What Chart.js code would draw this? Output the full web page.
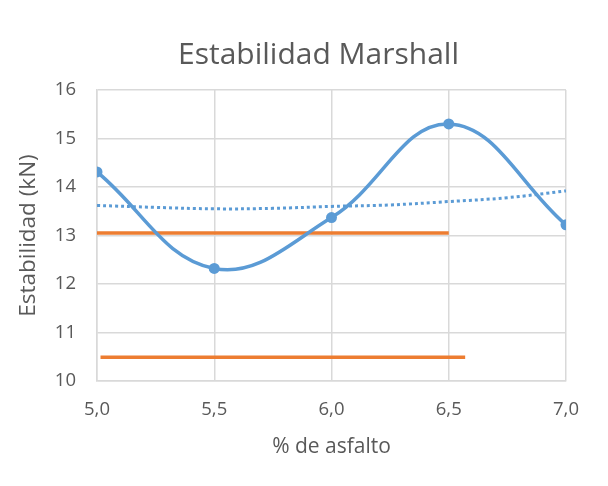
<!DOCTYPE html>
<html>
<head>
<meta charset="utf-8">
<script src="https://cdn.jsdelivr.net/npm/chart.js@4"></script>
<style>
  html, body { margin: 0; padding: 0; background: #fff; }
  #wrap { width: 608px; height: 486px; }
</style>
</head>
<body>
<div id="wrap"><canvas id="chart" width="608" height="486"></canvas></div>
<script>
// % de asfalto vs estabilidad
const asfalto = [5.0, 5.5, 6.0, 6.5, 7.0];
const estabilidad = [14.31, 12.32, 13.37, 15.30, 13.22];

// linea de tendencia (punteada)
const tendX = [5.0, 5.25, 5.5, 5.75, 6.0, 6.25, 6.5, 6.75, 7.0];
const tendY = [13.62, 13.58, 13.55, 13.56, 13.60, 13.63, 13.70, 13.78, 13.92];

// limites (naranja)
const lim1X = [5.0, 6.5];
const lim1Y = [13.05, 13.05];
const lim2X = [5.015, 6.57];
const lim2Y = [10.49, 10.49];

const xMin = 5.0, xMax = 7.0;
const yMin = 10, yMax = 16;

const blue = '#5B9BD5';
const orange = '#ED7D31';
const grey = '#595959';

function pts(xs, ys) {
  return xs.map((x, i) => ({x: x, y: ys[i]}));
}

const fontFam = '"Open Sans", sans-serif';

// excel centra el titulo un poco mas a la derecha
const shiftTitle = {
  id: 'shiftTitle',
  afterLayout(chart) {
    const t = chart.titleBlock;
    if (t) { t.left += 30; t.right += 30; }
  }
};

new Chart(document.getElementById('chart'), {
  type: 'line',
  plugins: [shiftTitle],
  data: {
    datasets: [
      {
        label: 'Estabilidad',
        data: pts(asfalto, estabilidad),
        borderColor: blue,
        backgroundColor: blue,
        borderWidth: 3.5,
        pointRadius: 5.5,
        pointBorderWidth: 0,
        tension: 0.4
      },
      {
        label: 'Tendencia',
        data: pts(tendX, tendY),
        borderColor: blue,
        borderWidth: 3,
        borderDash: [3, 3],
        pointRadius: 0,
        tension: 0.4
      },
      {
        label: 'Limite 1',
        data: pts(lim1X, lim1Y),
        borderColor: orange,
        borderWidth: 3.5,
        pointRadius: 0
      },
      {
        label: 'Limite 2',
        data: pts(lim2X, lim2Y),
        borderColor: orange,
        borderWidth: 3.5,
        pointRadius: 0
      }
    ]
  },
  options: {
    responsive: false,
    animation: false,
    layout: {
      padding: {left: 11, right: 42, top: 37, bottom: 22}
    },
    plugins: {
      legend: {display: false},
      tooltip: {enabled: false},
      title: {
        display: true,
        text: 'Estabilidad Marshall',
        color: grey,
        font: {family: fontFam, size: 30, weight: 'normal'},
        padding: {top: 0, bottom: 17}
      }
    },
    scales: {
      x: {
        type: 'linear',
        min: xMin,
        max: xMax,
        ticks: {
          stepSize: 0.5,
          color: grey,
          font: {family: fontFam, size: 18.5},
          padding: 18,
          callback: v => v.toFixed(1).replace('.', ',')
        },
        grid: {color: '#D9D9D9', lineWidth: 1.5, drawTicks: false},
        border: {color: '#D9D9D9', width: 1.5},
        title: {
          display: true,
          text: '% de asfalto',
          color: grey,
          font: {family: fontFam, size: 21},
          padding: {top: 4, bottom: 4}
        },
        afterFit: s => { s.height = 83; }
      },
      y: {
        min: yMin,
        max: yMax,
        ticks: {
          stepSize: 1,
          color: grey,
          font: {family: fontFam, size: 18.5},
          padding: 21
        },
        grid: {color: '#D9D9D9', lineWidth: 1.5, drawTicks: false},
        border: {color: '#D9D9D9', width: 1.5},
        title: {
          display: true,
          text: 'Estabilidad (kN)',
          color: grey,
          font: {family: fontFam, size: 22.5},
          padding: {top: 4, bottom: 4}
        },
        afterFit: s => { s.width = 86; }
      }
    }
  }
});
</script>
</body>
</html>
